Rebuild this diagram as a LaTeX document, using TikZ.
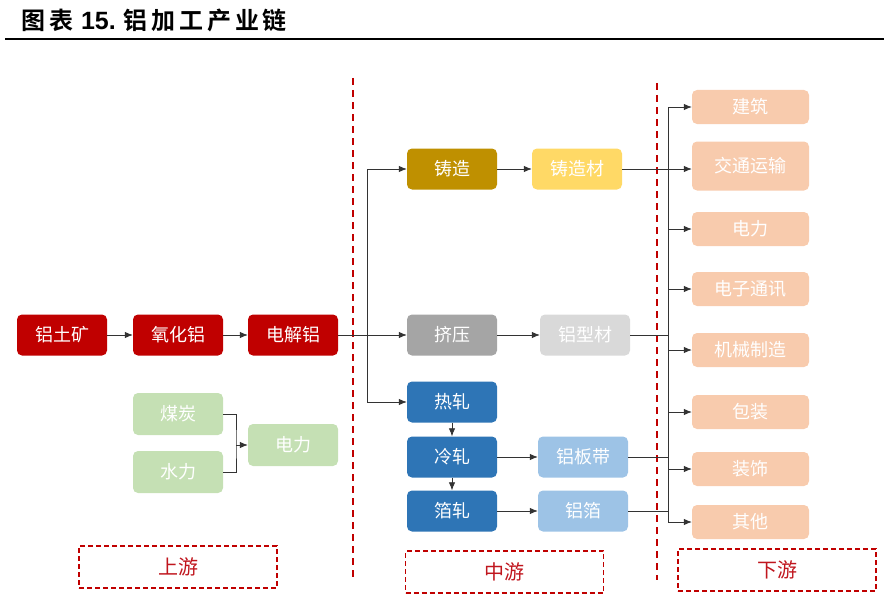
\documentclass[tikz,border=0pt]{standalone}
\usepackage{fontspec}
\setmainfont{Noto Sans CJK SC}
\newfontfamily\cjkb{Noto Sans CJK SC Bold}[LetterSpace=16]
\newfontfamily\numb{Liberation Sans Bold}
\usetikzlibrary{arrows.meta,positioning}
\definecolor{dred}{HTML}{C00000}
\definecolor{lred}{HTML}{C0161E}
\definecolor{gold}{HTML}{BF9000}
\definecolor{lgold}{HTML}{FFD966}
\definecolor{dgray}{HTML}{A5A5A5}
\definecolor{lgray}{HTML}{D9D9D9}
\definecolor{dblue}{HTML}{2E75B6}
\definecolor{lblue}{HTML}{9DC3E6}
\definecolor{lgreen}{HTML}{C5E0B4}
\definecolor{peach}{HTML}{F8CBAD}
\tikzset{
  box/.style={rounded corners=5pt, minimum width=90pt, minimum height=41pt, inner sep=0pt, text=white, font=\fontsize{18}{20}\selectfont},
  rbox/.style={box, minimum width=117pt, minimum height=34pt},
  conn/.style={draw=black!80, line width=0.8pt},
  arr/.style={conn, -{Latex[length=8pt,width=6.5pt]}},
  sep/.style={draw=dred, line width=1.8pt, dash pattern=on 7pt off 5pt},
  lab/.style={draw=dred, line width=1.2pt, dash pattern=on 5pt off 3pt, minimum width=198pt, minimum height=42pt, text=lred, font=\fontsize{20}{22}\selectfont},
}
\begin{document}
\begin{tikzpicture}[x=1pt,y=-1pt]
\useasboundingbox (0,0) rectangle (884,594);
% title
\node[anchor=west, inner sep=0pt, font=\cjkb\fontsize{24}{26}\selectfont] (title) at (21,20) {图表\hspace{8pt}{\numb\fontsize{25}{27}\selectfont 15.}\hspace{8pt}铝加工产业链};
\draw[line width=1.5pt] (5,39) -- (884,39);
% separators
\draw[sep] (353,78) -- (353,580);
\draw[sep] (657,83) -- (657,580);
% upstream
\node[box, fill=dred] (ore) at (62,335) {铝土矿};
\node[box, fill=dred] (alu) at (178,335) {氧化铝};
\node[box, fill=dred] (ele) at (293,335) {电解铝};
\node[box, fill=lgreen, minimum height=42pt] (coal) at (178,414) {煤炭};
\node[box, fill=lgreen, minimum height=42pt] (water) at (178,472) {水力};
\node[box, fill=lgreen, minimum height=42pt] (power) at (293,445) {电力};
\draw[arr] (ore) -- (alu);
\draw[arr] (alu) -- (ele);
\coordinate (j1) at (236,445);
\draw[conn] (coal.east) -| (j1) |- (water.east);
\draw[arr] (j1) -- (power.west);
% midstream
\node[box, fill=gold] (cast) at (452,169) {铸造};
\node[box, fill=lgold] (castm) at (577,169) {铸造材};
\node[box, fill=dgray] (ext) at (452,335) {挤压};
\node[box, fill=lgray] (prof) at (585,335) {铝型材};
\node[box, fill=dblue] (hot) at (452,402) {热轧};
\node[box, fill=dblue] (cold) at (452,457) {冷轧};
\node[box, fill=dblue] (foilr) at (452,511) {箔轧};
\node[box, fill=lblue] (plate) at (583,457) {铝板带};
\node[box, fill=lblue] (foil) at (583,511) {铝箔};
\coordinate (bus1) at (367,335);
\draw[conn] (ele.east) -- (bus1);
\draw[conn] (367,169) -- (367,402);
\draw[arr] (367,169) -- (cast.west);
\draw[arr] (bus1) -- (ext.west);
\draw[arr] (367,402) -- (hot.west);
\draw[arr] (cast) -- (castm);
\draw[arr] (ext) -- (prof);
\draw[arr] (hot) -- (cold);
\draw[arr] (cold) -- (foilr);
\draw[arr] (cold) -- (plate);
\draw[arr] (foilr) -- (foil);
% downstream
\node[rbox, fill=peach] (d1) at (750.5,107) {建筑};
\node[rbox, fill=peach, minimum height=49pt] (d2) at (750.5,166) {交通运输};
\node[rbox, fill=peach] (d3) at (750.5,229) {电力};
\node[rbox, fill=peach] (d4) at (750.5,289) {电子通讯};
\node[rbox, fill=peach] (d5) at (750.5,350) {机械制造};
\node[rbox, fill=peach] (d6) at (750.5,412) {包装};
\node[rbox, fill=peach] (d7) at (750.5,469) {装饰};
\node[rbox, fill=peach] (d8) at (750.5,522) {其他};
\draw[conn] (668,107) -- (668,522);
\draw[arr] (castm.east) -- (d2.west |- castm.east);
\draw[conn] (prof.east) -- (668,335);
\draw[conn] (plate.east) -- (668,457);
\draw[conn] (foil.east) -- (668,511);
\foreach \n in {d1,d3,d4,d5,d6,d7,d8} \draw[arr] (668,0 |- \n.west) -- (\n.west);
% stage labels
\node[lab] (up) at (178,567) {上游};
\node[lab] (mid) at (504.5,572) {中游};
\node[lab] (down) at (777,570) {下游};
\end{tikzpicture}
\end{document}
